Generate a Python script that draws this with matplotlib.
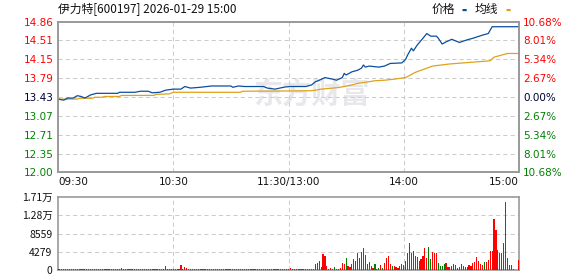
import numpy as np
import matplotlib
matplotlib.use("Agg")
import matplotlib.pyplot as plt

plt.rcParams['font.family'] = ['Noto Sans CJK SC', 'DejaVu Sans']

# ---- data ----
title = "伊力特[600197] 2026-01-29 15:00"
prev_close = 13.43
price_ticks = [12.00, 12.35, 12.71, 13.07, 13.43, 13.79, 14.15, 14.51, 14.86]
pct_labels = ['10.68%', '8.01%', '5.34%', '2.67%', '0.00%', '2.67%', '5.34%', '8.01%', '10.68%']
time_labels = ['09:30', '10:30', '11:30/13:00', '14:00', '15:00']
time_pos = [0, 60, 120, 180, 240]

# minute index (0 = 09:30, 120 = 11:30/13:00, 240 = 15:00) and price
price_min = [0, 3, 5, 8, 10, 12, 14, 16, 17, 20, 31, 32, 40, 43, 47, 49, 53, 56, 60, 64,
             66, 69, 74, 80, 90, 91, 94, 97, 107, 109, 113, 118, 121, 129, 132, 134, 136,
             139, 143, 145, 148, 149, 150, 153, 156, 158, 159, 160, 162, 167, 170, 173,
             179, 181, 182, 184, 185, 187, 190, 192, 194, 197, 198, 200, 202, 205, 207,
             209, 213, 216, 221, 224, 226, 240]
price_val = [13.39, 13.37, 13.41, 13.41, 13.455, 13.44, 13.41, 13.45, 13.47, 13.50, 13.50,
             13.52, 13.52, 13.54, 13.54, 13.51, 13.52, 13.56, 13.58, 13.58, 13.63, 13.60,
             13.615, 13.64, 13.64, 13.615, 13.64, 13.63, 13.63, 13.60, 13.58, 13.62, 13.63,
             13.63, 13.66, 13.72, 13.75, 13.80, 13.77, 13.75, 13.80, 13.88, 13.85, 13.91,
             13.94, 13.98, 14.04, 14.00, 14.02, 14.00, 14.02, 14.07, 14.08, 14.15, 14.23,
             14.36, 14.31, 14.42, 14.55, 14.64, 14.59, 14.59, 14.55, 14.44, 14.48, 14.53,
             14.50, 14.47, 14.52, 14.55, 14.61, 14.64, 14.77, 14.77]

avg_min = [0, 10, 11, 18, 19, 23, 24, 32, 33, 50, 51, 58, 60, 95, 96, 121, 132, 134, 137,
           146, 149, 153, 156, 160, 165, 170, 175, 181, 186, 192, 195, 204, 218, 225, 227,
           232, 234, 240]
avg_val = [13.39, 13.39, 13.405, 13.405, 13.425, 13.425, 13.44, 13.44, 13.46, 13.46, 13.48,
           13.49, 13.52, 13.52, 13.54, 13.545, 13.55, 13.56, 13.58, 13.61, 13.63, 13.66,
           13.69, 13.71, 13.74, 13.75, 13.77, 13.80, 13.90, 13.98, 14.02, 14.06, 14.10,
           14.12, 14.19, 14.24, 14.26, 14.26]

# volume per minute, morning 09:30-11:30 (121 values) and afternoon 13:01-15:00 (120 values)
vol_am = [260, 210, 230, 220, 240, 230, 210, 230, 240, 220,
          230, 230, 220, 240, 230, 210, 230, 220, 230, 240,
          230, 220, 230, 210, 230, 240, 220, 230, 230, 220,
          230, 240, 230, 470, 230, 220, 230, 240, 230, 210,
          230, 220, 240, 230, 230, 220, 230, 240, 230, 220,
          230, 230, 220, 240, 230, 230, 950, 230, 220, 240,
          230, 230, 220, 240, 1190, 230, 710, 470, 230, 220,
          230, 240, 230, 220, 230, 240, 230, 210, 230, 220,
          240, 230, 220, 230, 240, 230, 220, 230, 240, 230,
          220, 230, 240, 230, 220, 230, 240, 230, 220, 230,
          240, 230, 220, 230, 240, 230, 220, 230, 240, 230,
          220, 230, 240, 230, 220, 230, 240, 230, 220, 230, 230]
vol_pm = [390, 230, 156, 156, 230, 156, 156, 230, 156, 156, 156, 156, 230,
          1323, 1634, 2101, 700, 3734, 3268, 934, 156, 467, 311,
          700, 311, 156, 467, 1634, 1400, 2801, 934, 622, 1400,
          2567, 2101, 3968, 2879, 4201, 5135, 3579, 1400, 1867, 934,
          467, 1400, 311, 545, 1167, 545, 1634, 2801, 3268, 1400,
          934, 934, 700, 467, 934, 1400, 1167, 2101, 3968, 6302,
          3968, 4435, 3268, 3034, 2101, 2567, 3268, 5135, 2801, 5368,
          2567, 4201, 3968, 3968, 1634, 934, 934, 1400, 1634, 700,
          700, 934, 1400, 1167, 467, 700, 1400, 1011, 778, 700,
          1167, 1011, 1634, 1867, 3034, 2101, 1400, 1167, 1867, 1867,
          2334, 4435, 4435, 11903, 9336, 4668, 3968, 3968, 6302, 15871,
          2801, 1167, 1167, 233, 0, 0, 2334]
# r = up minute (red), g = down minute (green); one letter per minute
dir_am = ("rggggggrrr" "rrrrrrrrrr" "rgrrrrrrrr" "rrrrgrrrrr" "rrrrrrrrgr"
          "rrrrrrrrrr" "rrrrrrrrrr" "rrrgrrrrrr" "rrrrrrrrrr" "rrrrgrrrrr"
          "rrrrrrrrrr" "rrrrrrrrrr" "g")
dir_pm = ("rgrgrrgrgrrgr"
          "rrrrrrrrrr" "grgrrrgrrr" "rgrrrrrgrg" "rgrgrgrrrr" "grrrrrrrrr"
          "rrgrrrrrrg" "grrrggggrr" "rrrgrgrrrr" "rrrrrrrrgr" "rrrrrrgrrr"
          "rrrr" "rrr")
vol_ticks = [0, 4279, 8559, 12838, 17118]
vol_labels = ['0', '4279', '8559', '1.28万', '1.71万']

price_color = '#0a4f9e'
avg_color = '#e0a21c'
red = '#ff0000'
green = '#008000'
grid_kw = dict(color='#cccccc', linestyle=(0, (4, 3)), linewidth=0.75)

fig = plt.figure(figsize=(5.78, 2.76), dpi=100)
W, H = 578.0, 276.0
ax = fig.add_axes([58 / W, 1 - 172 / H, 461 / W, 150 / H])
axv = fig.add_axes([58 / W, 1 - 270 / H, 461 / W, 73 / H])

# watermark
ax.text(0.55, 0.52, "东方财富", transform=ax.transAxes, fontsize=21, fontweight='bold',
        color='#e8e8ec', ha='center', va='center', zorder=0, family=['Noto Sans CJK SC'])

ax.plot(avg_min, avg_val, color=avg_color, lw=0.9, zorder=3)
ax.plot(price_min, price_val, color=price_color, lw=0.9, zorder=4)

ax.set_xlim(0, 240)
ax.set_ylim(price_ticks[0], price_ticks[-1])
ax.set_yticks(price_ticks)
ax.set_yticklabels(['%.2f' % v for v in price_ticks])
ax.set_xticks(time_pos)
ax.set_xticklabels([])
for v, lab in zip(price_ticks, ax.get_yticklabels()):
    if v > prev_close + 1e-6:
        lab.set_color(red)
    elif v < prev_close - 1e-6:
        lab.set_color(green)
    else:
        lab.set_color('#000033')
    lab.set_family(['DejaVu Sans'])
    lab.set_fontsize(7.5)
ax.tick_params(length=0, pad=3)
for v in price_ticks[1:-1]:
    ax.axhline(v, **grid_kw, zorder=1)
for t in time_pos[1:-1]:
    ax.axvline(t, **grid_kw, zorder=1)

axr = ax.twinx()
axr.set_ylim(price_ticks[0], price_ticks[-1])
axr.set_yticks(price_ticks)
axr.set_yticklabels(pct_labels)
for v, lab in zip(price_ticks, axr.get_yticklabels()):
    if v > prev_close + 1e-6:
        lab.set_color(red)
    elif v < prev_close - 1e-6:
        lab.set_color(green)
    else:
        lab.set_color('#000033')
    lab.set_family(['DejaVu Sans'])
    lab.set_fontsize(7.5)
axr.tick_params(length=0, pad=3)

# time labels under the price panel
for t, lab in zip(time_pos, time_labels):
    ha = 'left' if t == 0 else ('right' if t == 240 else 'center')
    ax.text(t, -0.065, lab, transform=ax.get_xaxis_transform(), ha=ha, va='center',
            fontsize=7.5, family=['DejaVu Sans'], color='#111111')

# volume bars
vols = vol_am + vol_pm
dirs = (dir_am + dir_pm).ljust(len(vols), 'r')[:len(vols)]
minutes = np.arange(len(vols))
cols = [red if d == 'r' else green for d in dirs]
axv.bar(minutes, vols, width=0.6, color=cols, linewidth=0, zorder=3, antialiased=False)
axv.set_xlim(0, 240)
axv.set_ylim(0, vol_ticks[-1])
axv.set_yticks(vol_ticks)
axv.set_yticklabels(vol_labels)
axv.set_xticks([])
for lab in axv.get_yticklabels():
    lab.set_fontsize(7.5)
    lab.set_color('#111111')
axv.tick_params(length=0, pad=4)
for v in vol_ticks[1:-1]:
    axv.axhline(v, **grid_kw, zorder=1)
for t in time_pos[1:-1]:
    axv.axvline(t, **grid_kw, zorder=1)

for a in (ax, axr, axv):
    for s in a.spines.values():
        s.set_color('#999999')
        s.set_linewidth(1.2)

# title and legend
fig.text(58 / W, 1 - 9 / H, title, fontsize=8.5, ha='left', va='center', color='#111111')
fig.text(432 / W, 1 - 9 / H, "价格", fontsize=8.5, ha='left', va='center', color='#111111')
fig.text(462 / W, 1 - 10 / H, "▬", fontsize=4, ha='left', va='center', color=price_color,
         family=['DejaVu Sans'])
fig.text(475 / W, 1 - 9 / H, "均线", fontsize=8.5, ha='left', va='center', color='#111111')
fig.text(506 / W, 1 - 10 / H, "▬", fontsize=4, ha='left', va='center', color=avg_color,
         family=['DejaVu Sans'])

fig.savefig('out.png', dpi=100)
